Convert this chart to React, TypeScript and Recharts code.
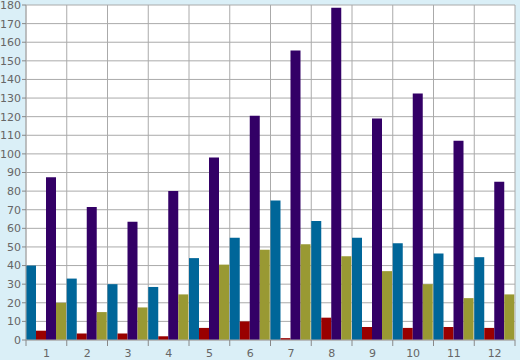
import React from 'react';
import { BarChart, Bar, XAxis, YAxis, CartesianGrid } from 'recharts';

// categories and series
const categories = ['1', '2', '3', '4', '5', '6', '7', '8', '9', '10', '11', '12'];
const seriesA = [40, 33, 30, 28.5, 44, 55, 75, 64, 55, 52, 46.5, 44.5];
const seriesB = [5, 3.5, 3.5, 2, 6.5, 10, 1, 12, 7, 6.5, 7, 6.5];
const seriesC = [87.5, 71.5, 63.5, 80, 98, 120.5, 155.5, 178.5, 119, 132.5, 107, 85];
const seriesD = [20, 15, 17.5, 24.5, 40.5, 48.5, 51.5, 45, 37, 30, 22.5, 24.5];
const yTicks = [0, 10, 20, 30, 40, 50, 60, 70, 80, 90, 100, 110, 120, 130, 140, 150, 160, 170, 180];

const data = categories.map((c, i) => ({
  name: c,
  a: seriesA[i],
  b: seriesB[i],
  c: seriesC[i],
  d: seriesD[i],
}));

const W = 520;
const H = 360;
const margin = { top: 5, right: 5, bottom: 0, left: 0 };
const yAxisW = 26;
const band = (W - margin.left - margin.right - yAxisW) / categories.length;

const XTick = (props: any) => {
  const { x, y, payload, index } = props;
  return (
    <g>
      <line x1={x - band / 2} x2={x - band / 2} y1={y} y2={y + 6} stroke="#888" />
      {index === categories.length - 1 && (
        <line x1={x + band / 2} x2={x + band / 2} y1={y} y2={y + 6} stroke="#888" />
      )}
      <text x={x} y={y + 17} textAnchor="middle" fill="#666" fontSize={11} fontFamily="DejaVu Sans">
        {payload.value}
      </text>
    </g>
  );
};

const App: React.FC = () => (
  <div style={{ position: 'absolute', left: 0, top: 0, width: W, height: H, background: '#daeff7' }}>
    <BarChart width={W} height={H} data={data} margin={margin} barCategoryGap={0} barGap={0}>
      <CartesianGrid
        stroke="#aaa"
        fill="#fff"
        strokeWidth={1}
        verticalCoordinatesGenerator={({ offset }: any) =>
          categories.map((_, i) => offset.left + i * (offset.width / categories.length)).concat(offset.left + offset.width)
        }
      />
      <XAxis
        dataKey="name"
        height={20}
        axisLine={{ stroke: '#aaa' }}
        tickLine={false}
        tickSize={0}
        tickMargin={0}
        interval={0}
        tick={<XTick />}
      />
      <YAxis
        width={yAxisW}
        domain={[0, 180]}
        ticks={yTicks}
        interval={0}
        axisLine={{ stroke: '#aaa' }}
        tickLine={{ stroke: '#888' }}
        tickSize={4}
        tickMargin={1}
        tick={{ fill: '#666', fontSize: 11, fontFamily: 'DejaVu Sans' }}
      />
      <Bar dataKey="a" fill="#006699" isAnimationActive={false} />
      <Bar dataKey="b" fill="#990000" isAnimationActive={false} />
      <Bar dataKey="c" fill="#330066" isAnimationActive={false} />
      <Bar dataKey="d" fill="#999933" isAnimationActive={false} />
    </BarChart>
  </div>
);

export default App;
